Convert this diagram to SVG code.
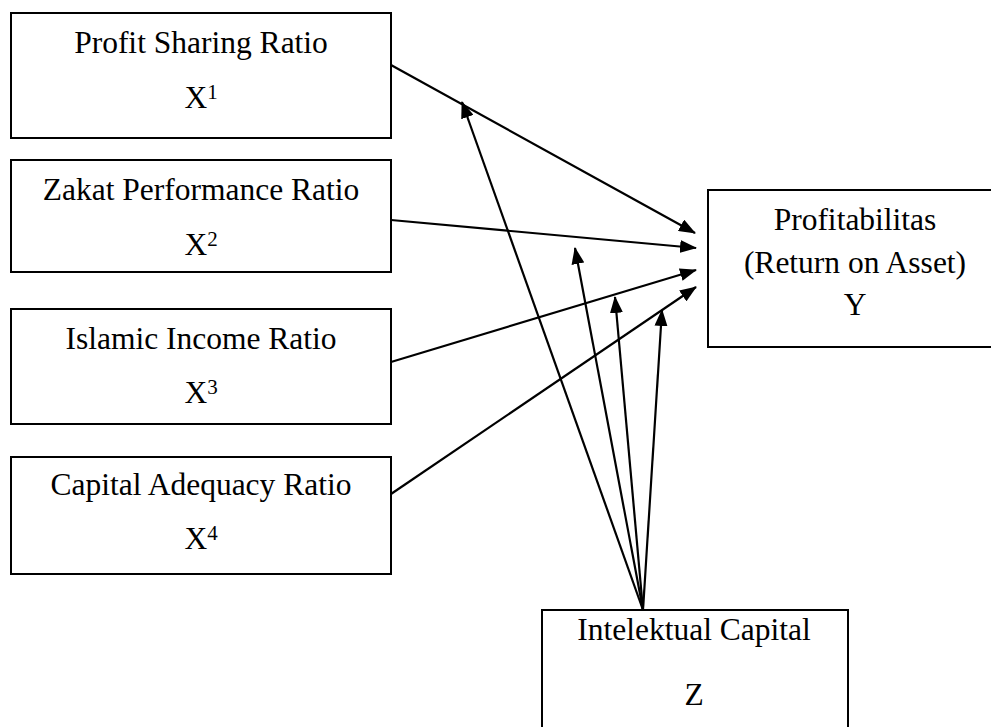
<svg xmlns="http://www.w3.org/2000/svg" width="991" height="727" viewBox="0 0 991 727">
<style>
  .box { fill: #fff; stroke: #000; stroke-width: 2; }
  .t { font-family: "Liberation Serif", "Times New Roman", serif; font-size: 31.5px; fill: #000; text-anchor: middle; }
  .sup { font-size: 21px; }
  .c { stroke: #000; stroke-width: 2.2; fill: none; marker-end: url(#ah); }
</style>
<defs>
  <marker id="ah" markerUnits="userSpaceOnUse" markerWidth="17" markerHeight="13" refX="16" refY="6.5" orient="auto">
    <path d="M0,0 L17,6.5 L0,13 z" fill="#000"/>
  </marker>
</defs>
<rect width="991" height="727" fill="#fff"/>
<g id="x1">
  <rect class="box" x="11" y="13" width="380" height="125"/>
  <text class="t" x="201" y="53">Profit Sharing Ratio</text>
  <text class="t" x="201" y="108">X<tspan class="sup" dy="-9">1</tspan></text>
</g>
<g id="x2">
  <rect class="box" x="11" y="160" width="380" height="112"/>
  <text class="t" x="201" y="200">Zakat Performance Ratio</text>
  <text class="t" x="201" y="255">X<tspan class="sup" dy="-9">2</tspan></text>
</g>
<g id="x3">
  <rect class="box" x="11" y="309" width="380" height="115"/>
  <text class="t" x="201" y="349">Islamic Income Ratio</text>
  <text class="t" x="201" y="403">X<tspan class="sup" dy="-9">3</tspan></text>
</g>
<g id="x4">
  <rect class="box" x="11" y="457" width="380" height="117"/>
  <text class="t" x="201" y="495">Capital Adequacy Ratio</text>
  <text class="t" x="201" y="549">X<tspan class="sup" dy="-9">4</tspan></text>
</g>
<g id="y">
  <rect class="box" x="708" y="190" width="294" height="157"/>
  <text class="t" x="855" y="230">Profitabilitas</text>
  <text class="t" x="855" y="273">(Return on Asset)</text>
  <text class="t" x="855" y="315">Y</text>
</g>
<g id="z">
  <rect class="box" x="542" y="610" width="306" height="130"/>
  <text class="t" x="694" y="640">Intelektual Capital</text>
  <text class="t" x="694" y="705">Z</text>
</g>
<g id="connectors">
  <line class="c" x1="391" y1="65" x2="695" y2="233"/>
  <line class="c" x1="391" y1="220" x2="696" y2="248"/>
  <line class="c" x1="391" y1="362" x2="696" y2="270"/>
  <line class="c" x1="391" y1="494" x2="696" y2="287"/>
  <line class="c" x1="643" y1="610" x2="462" y2="102"/>
  <line class="c" x1="643" y1="610" x2="575" y2="248"/>
  <line class="c" x1="643" y1="610" x2="615" y2="297"/>
  <line class="c" x1="643" y1="610" x2="662" y2="310"/>
</g>
</svg>
